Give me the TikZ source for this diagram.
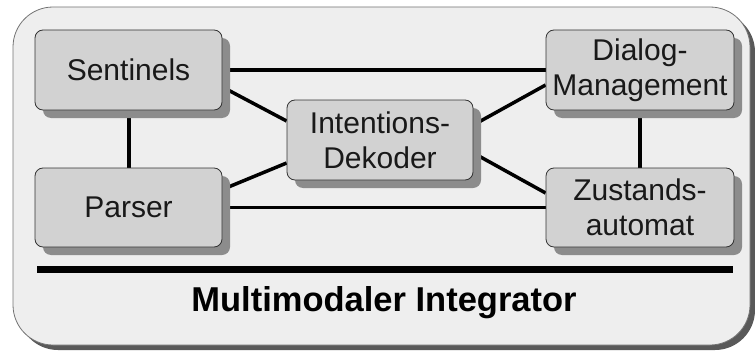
\documentclass[tikz,border=0pt]{standalone}
\usepackage{fontspec}
\setmainfont{Liberation Sans}
\usetikzlibrary{shadows}
\definecolor{boxfill}{HTML}{D2D2D2}
\definecolor{framefill}{HTML}{EEEEEE}
\definecolor{shadowgray}{HTML}{8C8C8C}
\pgfdeclarelayer{framelayer}
\pgfdeclarelayer{linelayer}
\pgfsetlayers{framelayer,linelayer,main}
\begin{document}
\begin{tikzpicture}[x=1pt,y=-1pt,
  comp/.style={draw=black!80, line width=0.8pt, fill=boxfill, rounded corners=8pt,
    minimum width=187pt, minimum height=80pt, inner sep=0pt, align=center,
    font=\fontsize{30}{35}\selectfont, text=black!90,
    drop shadow={shadow xshift=8pt, shadow yshift=-8pt, fill=shadowgray, opacity=1}},
  link/.style={line width=3.5pt, black}]
\useasboundingbox (0,0) rectangle (755,353);
% outer frame
\begin{pgfonlayer}{framelayer}
\fill[black!65, rounded corners=40pt] (18,12) rectangle (755,350);
\node[draw=black!55, line width=0.8pt, fill=framefill, rounded corners=40pt,
  minimum width=737pt, minimum height=338pt, inner sep=0pt] (frame) at (381.5,176) {};
\end{pgfonlayer}
% components
\node[comp] (sent) at (128.5,70) {Sentinels};
\node[comp, minimum height=79pt] (pars) at (128.5,207.5) {Parser};
\node[comp, minimum width=186pt] (intd) at (380,140) {Intentions-\\Dekoder};
\node[comp, minimum width=188pt] (dial) at (640,70) {Dialog-\\Management};
\node[comp, minimum width=188pt, minimum height=79pt] (zust) at (640,207.5) {Zustands-\\automat};
% connectors
\begin{pgfonlayer}{linelayer}
\draw[link, line width=4pt] (sent.east) -- (dial.west);
\draw[link, line width=3pt] (pars.east) -- (zust.west);
\draw[link, line width=4pt] (sent.south) -- (pars.north);
\draw[link, line width=4pt] (dial.south) -- (zust.north);
\draw[link] ([yshift=-17pt]sent.east) -- ([yshift=19pt]intd.west);
\draw[link] ([yshift=18pt]pars.east) -- ([yshift=-23pt]intd.west);
\draw[link] ([yshift=15pt]intd.east) -- ([yshift=-15pt]dial.west);
\draw[link] ([yshift=-13pt]intd.east) -- ([yshift=14.5pt]zust.west);
\end{pgfonlayer}
% bar and title
\coordinate (barl) at (37,269);
\coordinate (barr) at (733,269);
\draw[line width=7pt, black] (barl) -- (barr);
\node[font=\bfseries\fontsize{34.5}{40}\selectfont] (title) at (384,303) {Multimodaler Integrator};
\end{tikzpicture}
\end{document}
